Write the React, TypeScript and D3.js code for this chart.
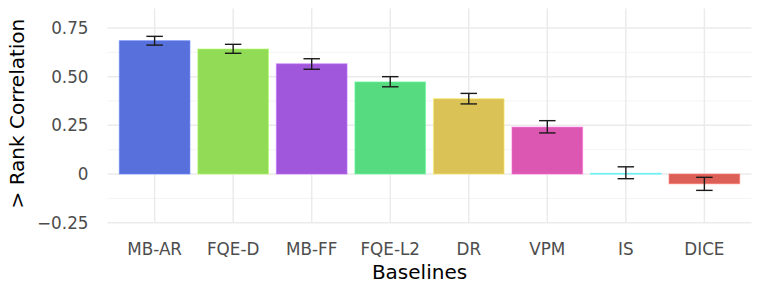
import * as d3 from "d3";
import React, { useRef, useEffect } from "react";

// values
const categories = ["MB-AR", "FQE-D", "MB-FF", "FQE-L2", "DR", "VPM", "IS", "DICE"];
const means = [0.685, 0.642, 0.566, 0.473, 0.387, 0.241, 0.004, -0.05];
const errLow = [0.662, 0.62, 0.538, 0.448, 0.36, 0.211, -0.024, -0.084];
const errHigh = [0.707, 0.666, 0.592, 0.5, 0.414, 0.274, 0.037, -0.017];
const barColors = ["#5770db", "#91db57", "#a157db", "#57db80", "#dbc257", "#db57b2", "#57d3db", "#db5f57"];
const majorTicks = [-0.25, 0, 0.25, 0.5, 0.75];
const tickLabels = ["\u22120.25", "0", "0.25", "0.50", "0.75"];
const minorTicks = [-0.125, 0.125, 0.375, 0.625];

const width = 761;
const height = 293;
const font = "DejaVu Sans, sans-serif";

function App() {
  const ref = useRef<SVGSVGElement>(null);

  useEffect(() => {
    const svg = d3.select(ref.current);
    svg.selectAll("*").remove();

    const left = 107.5;
    const right = 751.5;
    const top = 8.5;
    const bottom = 222.7;

    const x = d3.scalePoint<string>().domain(categories).range([left, right]).padding(0.6);
    const y = d3.scaleLinear().domain([-0.25, 0.85]).range([bottom, top]);
    const barW = x.step() * 0.9;

    const data = categories.map((c, i) => ({
      name: c,
      mean: means[i],
      lo: errLow[i],
      hi: errHigh[i],
      color: barColors[i],
    }));

    // grid
    const grid = svg.append("g");
    grid
      .selectAll("line.minor")
      .data(minorTicks)
      .enter()
      .append("line")
      .attr("x1", left)
      .attr("x2", right)
      .attr("y1", (d) => y(d))
      .attr("y2", (d) => y(d))
      .attr("stroke", "#f4f4f4")
      .attr("stroke-width", 1);
    grid
      .selectAll("line.major")
      .data(majorTicks)
      .enter()
      .append("line")
      .attr("x1", left)
      .attr("x2", right)
      .attr("y1", (d) => y(d))
      .attr("y2", (d) => y(d))
      .attr("stroke", "#ebebeb")
      .attr("stroke-width", 1.5);
    grid
      .selectAll("line.vert")
      .data(categories)
      .enter()
      .append("line")
      .attr("x1", (d) => x(d)!)
      .attr("x2", (d) => x(d)!)
      .attr("y1", top)
      .attr("y2", bottom)
      .attr("stroke", "#ebebeb")
      .attr("stroke-width", 1.5);

    // bars
    svg
      .append("g")
      .selectAll("rect")
      .data(data)
      .enter()
      .append("rect")
      .attr("x", (d) => x(d.name)! - barW / 2)
      .attr("width", barW)
      .attr("y", (d) => Math.min(y(d.mean), y(0)))
      .attr("height", (d) => Math.max(Math.abs(y(d.mean) - y(0)), 1))
      .attr("fill", (d) => d.color)
      .attr("stroke", (d) => d3.color(d.color)!.brighter(0.6).formatHex())
      .attr("stroke-opacity", 0.6)
      .attr("stroke-width", 1);

    // error bars
    const capW = 16.5;
    const eb = svg.append("g").attr("stroke", "#1a1a1a").attr("stroke-width", 1.4);
    eb.selectAll("line.v")
      .data(data)
      .enter()
      .append("line")
      .attr("x1", (d) => x(d.name)!)
      .attr("x2", (d) => x(d.name)!)
      .attr("y1", (d) => y(d.lo))
      .attr("y2", (d) => y(d.hi));
    eb.selectAll("line.t")
      .data(data)
      .enter()
      .append("line")
      .attr("x1", (d) => x(d.name)! - capW / 2)
      .attr("x2", (d) => x(d.name)! + capW / 2)
      .attr("y1", (d) => y(d.hi))
      .attr("y2", (d) => y(d.hi));
    eb.selectAll("line.b")
      .data(data)
      .enter()
      .append("line")
      .attr("x1", (d) => x(d.name)! - capW / 2)
      .attr("x2", (d) => x(d.name)! + capW / 2)
      .attr("y1", (d) => y(d.lo))
      .attr("y2", (d) => y(d.lo));

    // y tick labels
    svg
      .append("g")
      .selectAll("text")
      .data(majorTicks)
      .enter()
      .append("text")
      .attr("x", 88.5)
      .attr("y", (d) => y(d))
      .attr("dy", "0.36em")
      .attr("text-anchor", "end")
      .attr("font-family", font)
      .attr("font-size", 16.8)
      .attr("fill", "#4d4d4d")
      .text((d, i) => tickLabels[i]);

    // x tick labels
    svg
      .append("g")
      .selectAll("text")
      .data(categories)
      .enter()
      .append("text")
      .attr("x", (d) => x(d)!)
      .attr("y", 254.5)
      .attr("text-anchor", "middle")
      .attr("font-family", font)
      .attr("font-size", 16.8)
      .attr("fill", "#4d4d4d")
      .text((d) => d);

    // axis titles
    svg
      .append("text")
      .attr("x", (left + right) / 2 - 10)
      .attr("y", 278.5)
      .attr("text-anchor", "middle")
      .attr("font-family", font)
      .attr("font-size", 20)
      .attr("fill", "#000")
      .text("Baselines");

    svg
      .append("text")
      .attr("transform", `translate(24, ${(top + bottom) / 2 - 2}) rotate(-90)`)
      .attr("text-anchor", "middle")
      .attr("font-family", font)
      .attr("font-size", 20)
      .attr("fill", "#000")
      .text("> Rank Correlation");
  }, []);

  return (
    <svg
      ref={ref}
      width={width}
      height={height}
      style={{ position: "absolute", left: 0, top: 0, background: "#fff" }}
    ></svg>
  );
}

export default App;
